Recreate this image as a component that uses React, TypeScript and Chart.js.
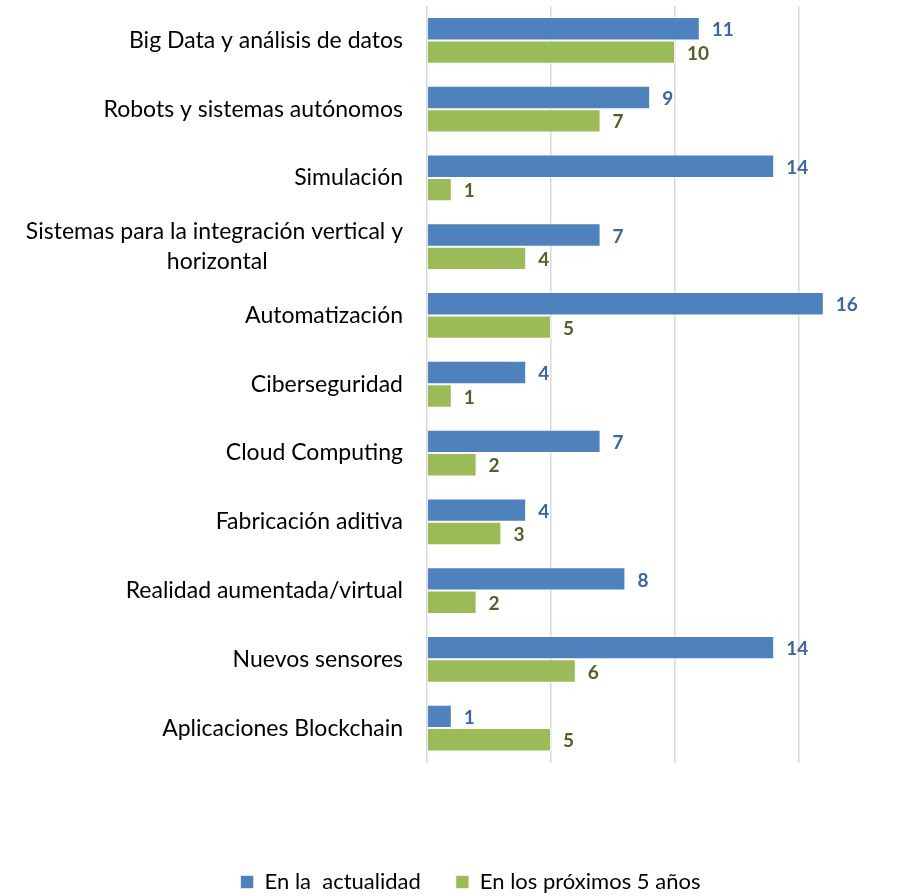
import React, { useEffect, useRef } from 'react';
import { Chart, registerables } from 'chart.js';

Chart.register(...registerables);

const categories: (string | string[])[] = [
  'Big Data y análisis de datos',
  'Robots y sistemas autónomos',
  'Simulación',
  ['Sistemas para la integración vertical y', 'horizontal'],
  'Automatización',
  'Ciberseguridad',
  'Cloud Computing',
  'Fabricación aditiva',
  'Realidad aumentada/virtual',
  'Nuevos sensores',
  'Aplicaciones Blockchain',
];
const seriesNames = ['En la  actualidad', 'En los próximos 5 años'];
const actualidad = [11, 9, 14, 7, 16, 4, 7, 4, 8, 14, 1];
const proximos = [10, 7, 1, 4, 5, 1, 2, 3, 2, 6, 5];
const xMin = 0;
const xMax = 20;
const xStep = 5;

const FONT = 'Lato, "Open Sans", sans-serif';
const BAR_COLORS = ['#4F81BD', '#9BBB59'];
const LABEL_COLORS = ['#3B66A3', '#4F6228'];
const Y_FONT_SIZE = 23;
const LEGEND_SHIFT = 9;

// Center continuation lines of multi-line labels under the first line
function buildLabels(): (string | string[])[] {
  const c = document.createElement('canvas').getContext('2d')!;
  c.font = `${Y_FONT_SIZE}px ${FONT}`;
  const sp = c.measureText(' ').width || 5;
  return categories.map((lab) => {
    if (!Array.isArray(lab)) return lab;
    const w0 = c.measureText(lab[0]).width;
    return lab.map((line, i) => {
      if (i === 0) return line;
      const w = c.measureText(line).width;
      const n = Math.max(0, Math.round((w0 - w) / 2 / sp));
      return line + ' '.repeat(n);
    });
  });
}

const valueLabels = {
  id: 'valueLabels',
  afterDatasetsDraw(chart: any) {
    const ctx = chart.ctx;
    ctx.save();
    ctx.font = `bold 19px ${FONT}`;
    ctx.textBaseline = 'middle';
    ctx.textAlign = 'left';
    chart.data.datasets.forEach((ds: any, di: number) => {
      const meta = chart.getDatasetMeta(di);
      ctx.fillStyle = LABEL_COLORS[di];
      meta.data.forEach((el: any, i: number) => {
        ctx.fillText(String(ds.data[i]), el.x + 12, el.y + 1.5);
      });
    });
    ctx.restore();
  },
};

const legendShift = {
  id: 'legendShift',
  afterLayout(chart: any) {
    if (chart.legend) {
      chart.legend.left += LEGEND_SHIFT;
      chart.legend.right += LEGEND_SHIFT;
    }
  },
};

export default function App() {
  const ref = useRef<HTMLCanvasElement>(null);

  useEffect(() => {
    if (!ref.current) return;
    const chart = new Chart(ref.current, {
      type: 'bar',
      data: {
        labels: buildLabels(),
        datasets: [
          {
            label: seriesNames[0],
            data: actualidad,
            backgroundColor: BAR_COLORS[0],
            borderColor: 'rgba(255,255,255,0.6)',
            borderWidth: 1,
            categoryPercentage: 0.68,
            barPercentage: 1,
          },
          {
            label: seriesNames[1],
            data: proximos,
            backgroundColor: BAR_COLORS[1],
            borderColor: 'rgba(255,255,255,0.6)',
            borderWidth: 1,
            categoryPercentage: 0.68,
            barPercentage: 1,
          },
        ],
      },
      options: {
        indexAxis: 'y',
        animation: false,
        responsive: false,
        devicePixelRatio: 1,
        layout: { padding: { top: 6, right: 19, bottom: 0, left: 0 } },
        scales: {
          x: {
            min: xMin,
            max: xMax,
            ticks: { display: false, stepSize: xStep },
            grid: { color: '#D9D9D9', lineWidth: 1.5, drawTicks: false },
            border: { display: false },
            afterFit: (s: any) => {
              s.height = 73.5;
              s.paddingLeft = 0;
              s.paddingRight = 0;
            },
          },
          y: {
            grid: { display: false, drawTicks: false },
            border: { display: false },
            ticks: {
              color: '#000',
              padding: 24,
              font: { family: FONT, size: Y_FONT_SIZE, lineHeight: 1.3 },
            },
            afterFit: (s: any) => {
              s.width = 427;
              s.paddingTop = 0;
              s.paddingBottom = 0;
            },
          },
        },
        plugins: {
          legend: {
            position: 'bottom',
            labels: {
              boxWidth: 13,
              boxHeight: 13,
              padding: 35,
              color: '#000',
              font: { family: FONT, size: 22 },
            },
          },
          tooltip: { enabled: false },
        },
      },
      plugins: [valueLabels, legendShift],
    });
    return () => chart.destroy();
  }, []);

  return (
    <div
      style={{
        position: 'fixed',
        left: 0,
        top: 0,
        width: 911,
        height: 896,
        overflow: 'hidden',
        background: '#fff',
      }}
    >
      <canvas
        ref={ref}
        width={942}
        height={903}
        style={{ position: 'absolute', left: 0, top: 0, width: 942, height: 903 }}
      />
    </div>
  );
}
